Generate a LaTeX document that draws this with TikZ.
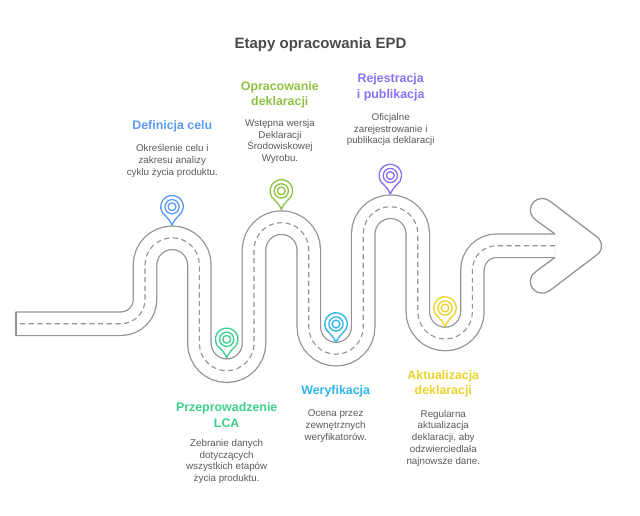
\documentclass[tikz,border=0pt]{standalone}
\usepackage{fontspec}
\setmainfont{Liberation Sans}
\definecolor{roadc}{HTML}{939393}
\definecolor{textc}{HTML}{5A5A5A}
\definecolor{titlec}{HTML}{4A4A4A}
\definecolor{cblue}{HTML}{5B9BF6}
\definecolor{cgreen}{HTML}{3ECF8E}
\definecolor{clime}{HTML}{8FC144}
\definecolor{cpurple}{HTML}{8B70F5}
\definecolor{ccyan}{HTML}{2FB5E8}
\definecolor{cyel}{HTML}{EBD32E}
\tikzset{
  x=0.75pt,y=-0.75pt,
  titlenode/.style={font=\bfseries\fontsize{11.25}{15}\selectfont,text=titlec,inner sep=0pt},
  headnode/.style={font=\bfseries\fontsize{9.3}{11.6}\selectfont,align=center,inner sep=0pt},
  bodynode/.style={font=\fontsize{7.35}{8.8}\selectfont,align=center,text=textc,inner sep=0pt},
  roadedge/.style={draw=roadc,line width=0.95pt},
  pinline/.style={line width=1pt,line join=round},
  pics/pin/.style={code={
    \draw[pinline,#1] (0,18.5) .. controls (-1.2,15.5) and (-3.5,12) .. (125:11.3) arc[start angle=125,end angle=415,radius=11.3] .. controls (3.5,12) and (1.2,15.5) .. cycle;
    \draw[pinline,#1] (0,0) circle[radius=7.1];
    \draw[pinline,#1] (0,0) circle[radius=3.9];
  }}
}
\begin{document}
\begin{tikzpicture}
\useasboundingbox (0,0) rectangle (640,515);
% road band: grey edges with a white core
\def\roadpath{(16,323.7) -- (121,323.7) arc[start angle=90,end angle=0,radius=24]
  -- (145,265) arc[start angle=180,end angle=360,radius=27.2]
  -- (199.4,343.4) arc[start angle=180,end angle=0,radius=27.3]
  -- (254,250) arc[start angle=180,end angle=360,radius=27.4]
  -- (308.8,327) arc[start angle=180,end angle=0,radius=27.2]
  -- (363.2,234) arc[start angle=180,end angle=360,radius=27.3]
  -- (417.8,311.7) arc[start angle=180,end angle=0,radius=27.3]
  -- (472.4,270) arc[start angle=180,end angle=270,radius=24.3]
  -- (555,245.7)}
\draw[roadc,line width=18.5pt] \roadpath;
\draw[white,line width=16.6pt] \roadpath;
\draw[roadedge,line cap=round] (16,312) -- (16,335.4);
% arrow head outline
\draw[roadedge,line join=round] (555,234) -- (536.7,220.7)
  .. controls (532.5,217.7) and (530.3,214) .. (530.3,210)
  .. controls (530.3,203.5) and (535.5,198.5) .. (542,198.5)
  .. controls (545,198.5) and (547.5,199.5) .. (550,201.2)
  -- (596.7,236.7)
  .. controls (603,241) and (603,251) .. (596.7,255)
  -- (550,290.4)
  .. controls (547.5,292.1) and (545,293.1) .. (542,293.1)
  .. controls (535.5,293.1) and (530.3,288.1) .. (530.3,281.6)
  .. controls (530.3,277.6) and (532.5,273.9) .. (536.7,270.9)
  -- (555,257.4);
% centre dashes
\draw[roadc,line width=0.85pt,dash pattern=on 3.9pt off 2.6pt] (20,323.7) -- (121,323.7) arc[start angle=90,end angle=0,radius=24]
  -- (145,265) arc[start angle=180,end angle=360,radius=27.2]
  -- (199.4,343.4) arc[start angle=180,end angle=0,radius=27.3]
  -- (254,250) arc[start angle=180,end angle=360,radius=27.4]
  -- (308.8,327) arc[start angle=180,end angle=0,radius=27.2]
  -- (363.2,234) arc[start angle=180,end angle=360,radius=27.3]
  -- (417.8,311.7) arc[start angle=180,end angle=0,radius=27.3]
  -- (472.4,270) arc[start angle=180,end angle=270,radius=24.3]
  -- (555,245.7);
% pins
\pic at (172,206.7) {pin=cblue};
\pic at (226.7,339.3) {pin=cgreen};
\pic at (281.3,190.9) {pin=clime};
\pic at (390.3,175.5) {pin=cpurple};
\pic at (336,324) {pin=ccyan};
\pic at (445,308) {pin=cyel};
% texts
\node[titlenode] (title) at (320.5,44.8) {Etapy opracowania EPD};
\node[headnode,text=cblue] (h1) at (172.3,126.3) {Definicja celu};
\node[bodynode] (b1) at (172.3,160.8) {Określenie celu i\\zakresu analizy\\cyklu życia produktu.};
\node[headnode,text=clime] (h2) at (279.8,94.9) {Opracowanie\\deklaracji};
\node[bodynode] (b2) at (280,141.5) {Wstępna wersja\\Deklaracji\\Środowiskowej\\Wyrobu.};
\node[headnode,text=cpurple] (h3) at (390.7,87.3) {Rejestracja\\i publikacja};
\node[bodynode] (b3) at (390.7,129.7) {Oficjalne\\zarejestrowanie i\\publikacja deklaracji};
\node[headnode,text=cgreen] (h4) at (226.7,414.9) {Przeprowadzenie\\LCA};
\node[bodynode] (b4) at (226.7,461.5) {Zebranie danych\\dotyczących\\wszystkich etapów\\życia produktu.};
\node[headnode,text=ccyan] (h5) at (335.7,391.6) {Weryfikacja};
\node[bodynode] (b5) at (335.7,426.1) {Ocena przez\\zewnętrznych\\weryfikatorów.};
\node[headnode,text=cyel] (h6) at (443.3,383.6) {Aktualizacja\\deklaracji};
\node[bodynode] (b6) at (443.3,438) {Regularna\\aktualizacja\\deklaracji, aby\\odzwierciedlała\\najnowsze dane.};
\end{tikzpicture}
\end{document}
